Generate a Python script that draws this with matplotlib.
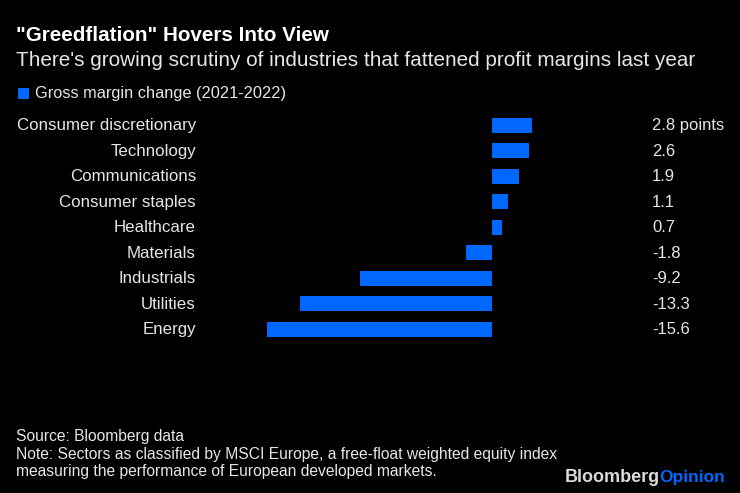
import matplotlib
matplotlib.use("Agg")
import matplotlib.pyplot as plt
from matplotlib.patches import Rectangle
from matplotlib.transforms import blended_transform_factory

categories = ["Consumer discretionary", "Technology", "Communications", "Consumer staples",
              "Healthcare", "Materials", "Industrials", "Utilities", "Energy"]
values = [2.8, 2.6, 1.9, 1.1, 0.7, -1.8, -9.2, -13.3, -15.6]
value_labels = ["2.8 points", "2.6", "1.9", "1.1", "0.7", "-1.8", "-9.2", "-13.3", "-15.6"]

W, H = 740, 493
BLUE = "#0068ff"
TXT = "#e6e6e6"
plt.rcParams["font.family"] = ["Liberation Sans", "DejaVu Sans"]
fig = plt.figure(figsize=(W / 100, H / 100), dpi=100, facecolor="black")

def px(p): return p * 72 / 100

left, right, top, bottom = 200, 640, 112.4, 342.2
ax = fig.add_axes([left / W, 1 - bottom / H, (right - left) / W, (bottom - top) / H], facecolor="black")
pps = 14.4
ax.set_xlim((left - 492) / pps, (right - 492) / pps)
ax.set_ylim(len(values) - 0.5, -0.5)
ax.barh(range(len(values)), values, height=0.59, color=BLUE)
ax.axis("off")
tr = blended_transform_factory(fig.transFigure, ax.transData)
for i, (c, l) in enumerate(zip(categories, value_labels)):
    fig.text(196 / W, i + 0.02, c, color=TXT, fontsize=px(16.9), ha="right", va="center", transform=tr)
    fig.text(652 / W, i + 0.02, l, color=TXT, fontsize=px(16.6), ha="left", va="center", transform=tr)

def t(x, y, s, size, **kw):
    kw.setdefault("color", TXT)
    return fig.text(x / W, 1 - y / H, s, fontsize=px(size), va="center", ha="left", **kw)

t(16, 35.5, '"Greedflation" Hovers Into View', 20.7, fontweight="bold", color="white")
t(16, 61, "There's growing scrutiny of industries that fattened profit margins last year", 20.8)
fig.add_artist(Rectangle((18 / W, 1 - 99 / H), 11 / W, 11 / H, transform=fig.transFigure, color=BLUE, lw=0))
t(35, 93.5, "Gross margin change (2021-2022)", 16.4)
t(16, 437, "Source: Bloomberg data", 15.6)
t(16, 454, "Note: Sectors as classified by MSCI Europe, a free-float weighted equity index", 15.6)
t(16, 471.5, "measuring the performance of European developed markets.", 15.6)
t(565, 477.5, "Bloomberg", 18, fontweight="bold", color="#d9d9d9")
t(659, 477.5, "Opinion", 17.4, fontweight="bold", color=BLUE)
fig.savefig("out.png", dpi=100, facecolor="black")
